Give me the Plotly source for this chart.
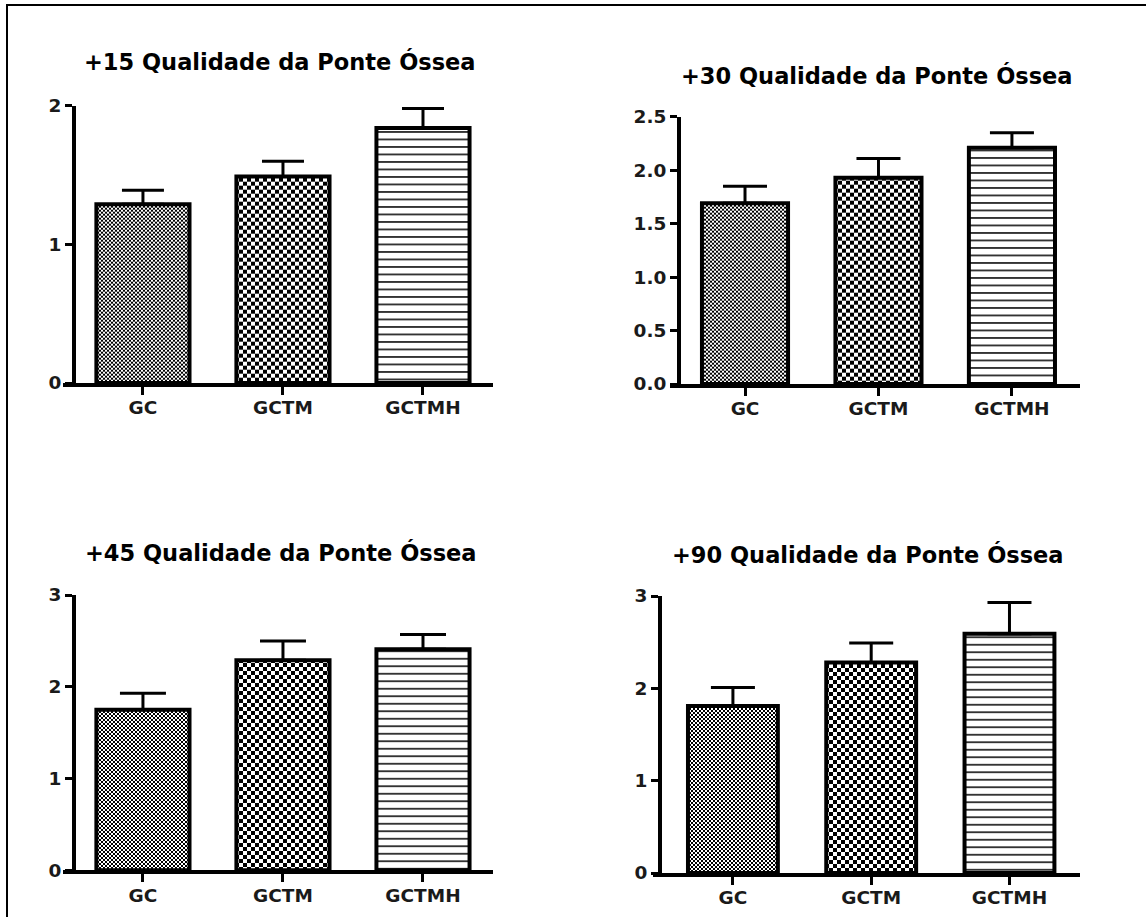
import plotly.graph_objects as go

# Groups and measured means / SEM for each post-operative day
groups = ["GC", "GCTM", "GCTMH"]
panel_titles = [
    "+15 Qualidade da Ponte Óssea",
    "+30 Qualidade da Ponte Óssea",
    "+45 Qualidade da Ponte Óssea",
    "+90 Qualidade da Ponte Óssea",
]
mean_d15 = [1.29, 1.49, 1.84]
sem_d15 = [0.10, 0.11, 0.14]
mean_d30 = [1.69, 1.93, 2.21]
sem_d30 = [0.16, 0.18, 0.14]
mean_d45 = [1.75, 2.29, 2.41]
sem_d45 = [0.18, 0.21, 0.16]
mean_d90 = [1.81, 2.28, 2.59]
sem_d90 = [0.20, 0.21, 0.34]

ytick_d15 = [0, 1, 2]
ytick_d30 = [0.0, 0.5, 1.0, 1.5, 2.0, 2.5]
ytick_d45 = [0, 1, 2, 3]
ytick_d90 = [0, 1, 2, 3]

W, H = 1146, 917


def fx(px):
    return px / W


def fy(px):
    return 1 - px / H


# fill patterns: fine checker, coarse checker, horizontal lines
patterns = [
    dict(path="M0,0H2V2H0ZM2,2H4V4H2Z", size=4, fgcolor="black", bgcolor="white", fillmode="replace"),
    dict(path="M0,0H4V4H0ZM4,4H8V8H4Z", size=8, fgcolor="black", bgcolor="white", fillmode="replace"),
    dict(shape="-", size=7.5, solidity=0.2, fgcolor="black", bgcolor="white", fillmode="replace"),
]

# panel frames in pixels: x-axis line left/right, y-axis x, y=0 line, y top
panels = [
    dict(means=mean_d15, sems=sem_d15, ticks=ytick_d15, fmt="d",
         xl=63, xr=493, yx=72, yb=385, yt=105.7, xr_range=[-0.571, 2.5],
         bw=0.665, cap=21, title_xy=(280, 61)),
    dict(means=mean_d30, sems=sem_d30, ticks=ytick_d30, fmt=".1f",
         xl=670, xr=1080, yx=677, yb=386, yt=116.7, xr_range=[-0.562, 2.51],
         bw=0.645, cap=22, title_xy=(877, 75)),
    dict(means=mean_d45, sems=sem_d45, ticks=ytick_d45, fmt="d",
         xl=63, xr=493, yx=72, yb=872.3, yt=595, xr_range=[-0.571, 2.5],
         bw=0.665, cap=23, title_xy=(281, 552)),
    dict(means=mean_d90, sems=sem_d90, ticks=ytick_d90, fmt="d",
         xl=653, xr=1080, yx=658, yb=875, yt=596, xr_range=[-0.578, 2.51],
         bw=0.65, cap=22, title_xy=(868, 554)),
]

tick_font = dict(family="DejaVu Sans", size=18.5, color="#1a1a1a", weight="bold")
title_font = dict(family="DejaVu Sans", size=22.5, color="black", weight="bold")

fig = go.Figure()
layout = dict(
    width=W, height=H, autosize=False,
    margin=dict(l=0, r=0, t=0, b=0, pad=0),
    paper_bgcolor="white", plot_bgcolor="white",
    showlegend=False, barmode="overlay",
    annotations=[], shapes=[],
)

for i, p in enumerate(panels):
    n = i + 1
    xa = "x" if n == 1 else f"x{n}"
    ya = "y" if n == 1 else f"y{n}"
    for j, g in enumerate(groups):
        fig.add_trace(go.Bar(
            x=[g], y=[p["means"][j]], width=p["bw"],
            xaxis=xa, yaxis=ya,
            marker=dict(color="white", line=dict(color="black", width=4),
                        pattern=patterns[j]),
            error_y=dict(type="data", symmetric=False,
                         array=[p["sems"][j]], arrayminus=[0],
                         color="black", thickness=3, width=p["cap"]),
            hoverinfo="skip",
        ))
    top = max(p["ticks"])
    layout[f"xaxis{'' if n == 1 else n}"] = dict(
        domain=[fx(p["xl"]), fx(p["xr"])], anchor=ya,
        range=p["xr_range"], type="category",
        categoryorder="array", categoryarray=groups,
        showline=True, linecolor="black", linewidth=4,
        ticks="outside", ticklen=8, tickwidth=3, tickcolor="black",
        ticklabelstandoff=-3,
        tickfont=tick_font, showgrid=False, zeroline=False,
        fixedrange=True, automargin=False,
    )
    layout[f"yaxis{'' if n == 1 else n}"] = dict(
        domain=[fy(p["yb"] - 2), fy(p["yt"])], anchor="free",
        position=fx(p["yx"] + 2),
        range=[0, top], tickvals=p["ticks"],
        tickformat=p["fmt"],
        showline=True, linecolor="black", linewidth=4,
        ticks="outside", ticklen=7, tickwidth=3, tickcolor="black",
        tickfont=tick_font, showgrid=False, zeroline=False,
        fixedrange=True, automargin=False,
    )
    tx, ty = p["title_xy"]
    layout["annotations"].append(dict(
        text=panel_titles[i], xref="paper", yref="paper",
        x=fx(tx), y=fy(ty), xanchor="center", yanchor="middle",
        showarrow=False, font=title_font,
    ))

# outer frame around the whole figure
layout["shapes"].append(dict(
    type="rect", xref="paper", yref="paper",
    x0=fx(7), x1=fx(1160), y0=fy(930), y1=fy(5),
    line=dict(color="black", width=2), fillcolor="rgba(0,0,0,0)",
))

fig.update_layout(**layout)
fig.write_html("out.html")
